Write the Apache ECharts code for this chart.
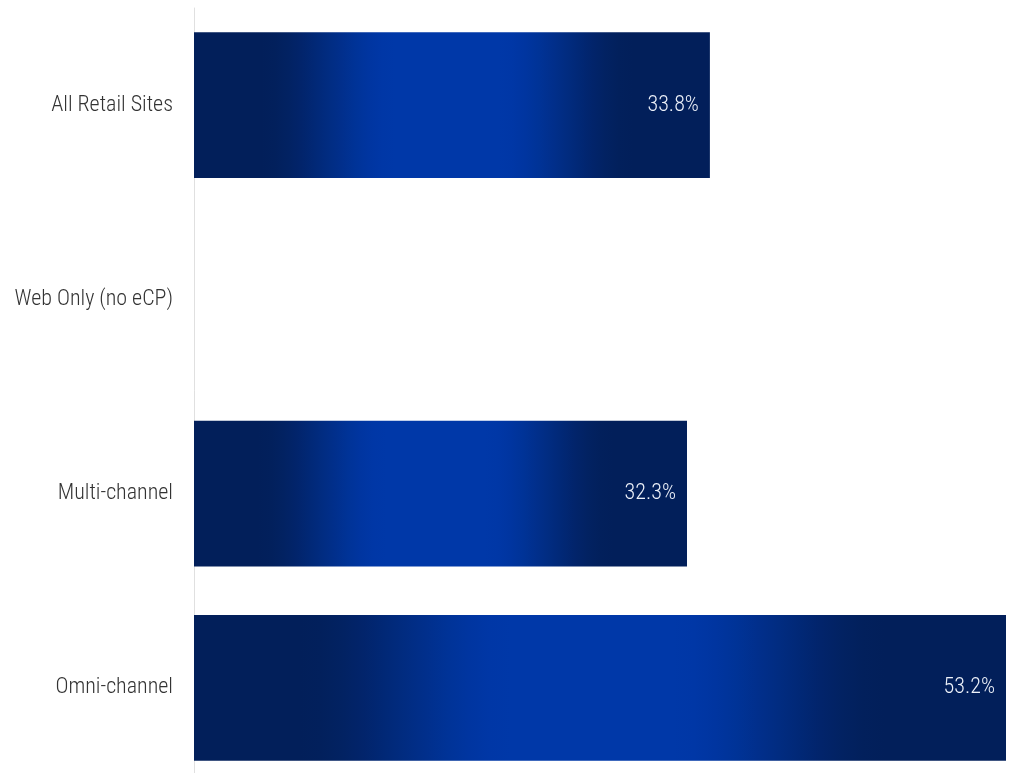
<!DOCTYPE html>
<html>
<head>
<meta charset="utf-8">
<title>Retail Sites</title>
<script src="https://cdn.jsdelivr.net/npm/echarts@6/dist/echarts.min.js"></script>
<style>
  html, body { margin: 0; padding: 0; background: #ffffff; }
  #chart { width: 1011px; height: 773px; }
</style>
</head>
<body>
<div id="chart"></div>
<script>
// Site categories, listed top to bottom
const categories = ['All Retail Sites', 'Web Only (no eCP)', 'Multi-channel', 'Omni-channel'];
// Percentage per category (no bar shown for Web Only)
const values = [33.8, null, 32.3, 53.2];

const FONT = '"Roboto Condensed", "Liberation Sans Narrow", "Arial Narrow", Roboto, sans-serif';

// Horizontal sheen across each bar: navy edges easing into a bright blue core
const barFill = new echarts.graphic.LinearGradient(0, 0, 1, 0, [
  { offset: 0.000, color: '#021f5a' },
  { offset: 0.130, color: '#021f5a' },
  { offset: 0.156, color: '#02205c' },
  { offset: 0.182, color: '#022262' },
  { offset: 0.208, color: '#02246b' },
  { offset: 0.234, color: '#012876' },
  { offset: 0.260, color: '#012c81' },
  { offset: 0.286, color: '#012f8c' },
  { offset: 0.312, color: '#003397' },
  { offset: 0.338, color: '#0035a0' },
  { offset: 0.364, color: '#0037a6' },
  { offset: 0.390, color: '#0038a8' },
  { offset: 0.590, color: '#0038a8' },
  { offset: 0.616, color: '#0037a6' },
  { offset: 0.642, color: '#0035a0' },
  { offset: 0.668, color: '#003397' },
  { offset: 0.694, color: '#012f8c' },
  { offset: 0.720, color: '#012c81' },
  { offset: 0.746, color: '#012876' },
  { offset: 0.772, color: '#02246b' },
  { offset: 0.798, color: '#022262' },
  { offset: 0.824, color: '#02205c' },
  { offset: 0.850, color: '#021f5a' },
  { offset: 1.000, color: '#021f5a' }
]);

const chart = echarts.init(document.getElementById('chart'));
chart.setOption({
  animation: false,
  backgroundColor: '#ffffff',
  grid: { left: 194, right: 5, top: 8, height: 777, containLabel: false, outerBoundsMode: 'none' },
  xAxis: {
    type: 'value',
    min: 0,
    max: 53.2,
    show: false
  },
  yAxis: {
    type: 'category',
    data: categories,
    inverse: true,
    axisLine: { show: true, lineStyle: { color: '#e0e0e0', width: 1 } },
    axisTick: { show: false },
    splitLine: { show: false },
    axisLabel: {
      margin: 21,
      color: '#333333',
      fontSize: 22,
      fontWeight: 300,
      fontFamily: FONT
    }
  },
  series: [{
    type: 'bar',
    data: values,
    barCategoryGap: '25%',
    itemStyle: { color: barFill },
    label: {
      show: true,
      position: 'insideRight',
      distance: 11,
      color: '#eef2fa',
      fontSize: 22,
      fontWeight: 300,
      fontFamily: FONT,
      formatter: p => p.value.toFixed(1) + '%'
    }
  }]
});
</script>
</body>
</html>
